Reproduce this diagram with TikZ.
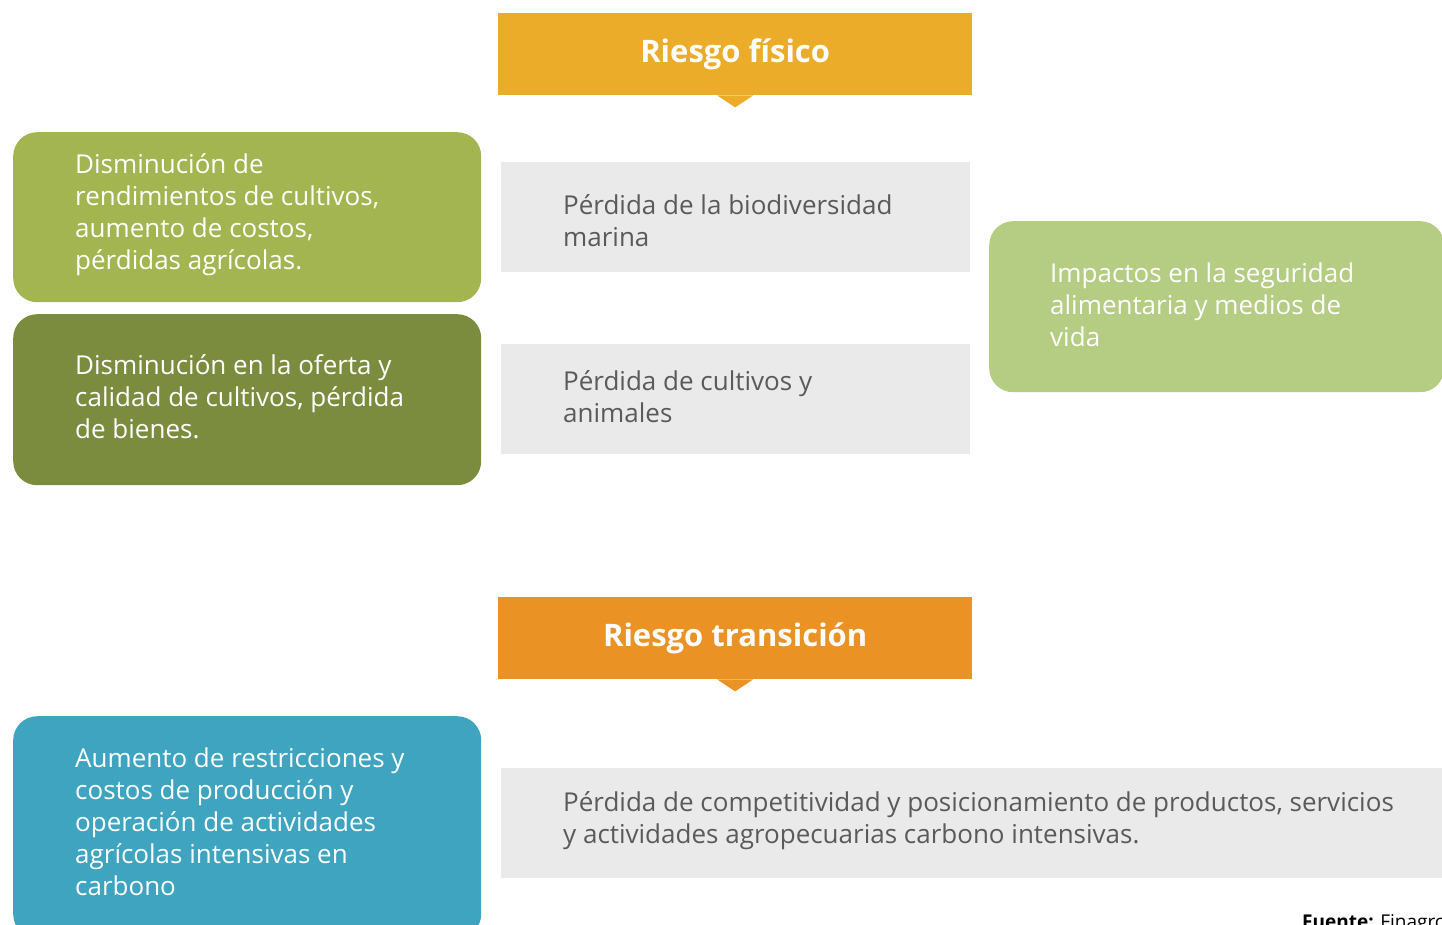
\documentclass[tikz,border=0pt]{standalone}
\usepackage{fontspec}
\setmainfont{Open Sans}
\definecolor{cfis}{HTML}{EBAC29}
\definecolor{ctra}{HTML}{EA9223}
\definecolor{cgone}{HTML}{A3B551}
\definecolor{cgtwo}{HTML}{7B8C3E}
\definecolor{cglt}{HTML}{B5CC83}
\definecolor{cblu}{HTML}{3FA4BF}
\definecolor{cgray}{HTML}{EAEAEA}
\definecolor{cgtxt}{HTML}{5A5A5A}
\begin{document}
\begin{tikzpicture}[x=1pt,y=-1pt,
  header/.style={rectangle, draw=none, inner sep=0pt, minimum width=474pt, minimum height=82pt, anchor=north west, text=white, font=\bfseries\fontsize{31}{34}\selectfont},
  rbox/.style={rectangle, rounded corners=24pt, draw=none, inner sep=0pt, anchor=north west},
  gbox/.style={rectangle, draw=none, fill=cgray, inner sep=0pt, anchor=north west, minimum height=110pt},
  wtxt/.style={anchor=west, inner sep=0pt, align=left, text=white, font=\fontsize{26}{32}\selectfont},
  gtxt/.style={anchor=west, inner sep=0pt, align=left, text=cgtxt, font=\fontsize{26}{32}\selectfont}
]
\useasboundingbox (0,0) rectangle (1442,925);
% headers
\node[header, fill=cfis] (hf) at (498,13) {Riesgo físico};
\fill[cfis] ([xshift=-18pt]hf.south) -- ([yshift=-12pt]hf.south) -- ([xshift=18pt]hf.south) -- cycle;
\node[header, fill=ctra] (ht) at (498,597) {Riesgo transición};
\fill[ctra] ([xshift=-18pt]ht.south) -- ([yshift=-12pt]ht.south) -- ([xshift=18pt]ht.south) -- cycle;
% left boxes
\node[rbox, fill=cgone, minimum width=468pt, minimum height=170pt] (b1) at (13,132) {};
\node[wtxt] (t1) at (75,215) {Disminución de\\rendimientos de cultivos,\\aumento de costos,\\pérdidas agrícolas.};
\node[rbox, fill=cgtwo, minimum width=468pt, minimum height=171pt] (b2) at (13,314) {};
\node[wtxt] (t2) at (75,397) {Disminución en la oferta y\\calidad de cultivos, pérdida\\de bienes.};
\node[rbox, fill=cblu, minimum width=468pt, minimum height=222pt] (b3) at (13,716) {};
\node[wtxt] (t3) at (75,822) {Aumento de restricciones y\\costos de producción y\\operación de actividades\\agrícolas intensivas en\\carbono};
% gray boxes
\node[gbox, minimum width=469pt] (g1) at (501,162) {};
\node[gtxt] (tg1) at (563,221) {Pérdida de la biodiversidad\\marina};
\node[gbox, minimum width=469pt] (g2) at (501,344) {};
\node[gtxt] (tg2) at (563,397) {Pérdida de cultivos y\\animales};
\node[gbox, minimum width=960pt] (g3) at (501,768) {};
\node[gtxt] (tg3) at (563,821) {Pérdida de competitividad y posicionamiento de productos, servicios\\y actividades agropecuarias carbono intensivas.};
% right box
\node[rbox, fill=cglt, minimum width=455pt, minimum height=171pt] (b4) at (989,221) {};
\node[wtxt] (t4) at (1050,305) {Impactos en la seguridad\\alimentaria y medios de\\vida};
% source
\node[anchor=north west, inner sep=0pt, text=black, font=\fontsize{19}{22}\selectfont] (src) at (1302,914) {\textbf{Fuente:} Finagro};
\end{tikzpicture}
\end{document}
